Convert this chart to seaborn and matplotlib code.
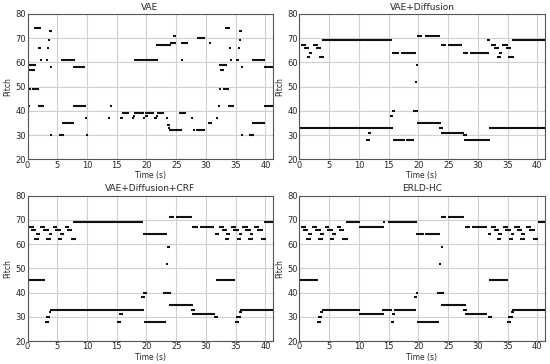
import numpy as np
import pandas as pd
import seaborn as sns
import matplotlib
matplotlib.use("Agg")
import matplotlib.pyplot as plt

# notes as (onset s, offset s, pitch)
vae_notes = [
    (0.0, 0.15, 37), (0.1, 0.5, 42), (0.2, 0.6, 49), (0.2, 1.5, 59), (0.4, 1.2, 57),
    (0.9, 1.9, 49), (1.2, 2.2, 74), (2.0, 2.2, 66), (2.2, 2.4, 61), (1.9, 2.7, 42),
    (3.2, 3.4, 61), (3.4, 3.6, 66), (3.6, 3.8, 69), (3.7, 4.1, 73), (4.0, 4.2, 58),
    (4.0, 4.2, 30), (5.4, 6.1, 30), (5.8, 8.0, 61), (6.0, 7.9, 35), (7.9, 9.6, 58),
    (7.9, 9.9, 42), (9.8, 10.0, 37), (10.0, 10.2, 30), (13.7, 13.9, 37), (14.0, 14.2, 42),
    (15.8, 16.0, 37), (16.0, 17.1, 39), (17.7, 17.9, 37), (17.9, 18.1, 38), (18.0, 19.6, 39),
    (18.0, 21.9, 61), (19.6, 19.8, 37), (20.0, 21.2, 39), (20.0, 20.2, 38), (21.5, 21.7, 37),
    (21.7, 21.9, 38), (21.9, 23.0, 39), (21.8, 24.1, 67), (23.4, 23.6, 37), (23.7, 23.9, 34),
    (23.8, 24.0, 33), (24.0, 26.0, 32), (24.1, 25.0, 68), (24.7, 24.9, 71), (25.6, 26.6, 39),
    (25.9, 26.1, 61), (26.0, 27.0, 68), (27.7, 27.9, 37), (28.0, 28.2, 32), (28.5, 29.9, 32),
    (28.7, 29.9, 70), (30.7, 30.9, 68), (30.5, 31.0, 35), (31.9, 32.1, 37), (32.2, 32.4, 42),
    (32.4, 32.6, 49), (32.4, 33.5, 59), (32.5, 33.1, 57), (33.0, 33.8, 49), (33.3, 34.1, 74),
    (34.0, 34.2, 66), (34.2, 34.4, 61), (33.9, 34.7, 42), (35.3, 35.5, 61), (35.5, 35.7, 66),
    (35.7, 35.9, 69), (35.8, 36.1, 73), (36.0, 36.2, 58), (36.0, 36.2, 30), (37.4, 38.1, 30),
    (37.9, 40.0, 61), (38.0, 39.9, 35), (40.0, 41.2, 58), (40.0, 41.2, 42),
]

diff_notes = [
    (0.0, 15.7, 33), (0.4, 1.1, 67), (0.9, 1.6, 66), (1.4, 1.8, 62), (1.7, 2.1, 64),
    (2.5, 3.1, 67), (2.9, 3.6, 66), (3.5, 4.2, 62), (3.9, 10.7, 69), (10.9, 15.6, 69),
    (11.4, 11.8, 28), (11.7, 12.1, 31), (15.4, 15.8, 38), (15.7, 16.1, 40), (15.7, 16.8, 64),
    (15.9, 17.7, 28), (17.3, 19.6, 64), (18.1, 19.3, 28), (19.2, 20.0, 40), (19.6, 19.8, 52),
    (19.8, 20.0, 59), (20.0, 23.8, 35), (20.0, 20.6, 71), (21.3, 23.7, 71), (23.7, 24.1, 33),
    (23.9, 24.6, 67), (23.9, 27.6, 31), (25.2, 27.4, 67), (27.6, 28.1, 30), (27.9, 32.1, 28),
    (27.7, 28.4, 64), (28.9, 31.8, 64), (31.7, 32.1, 69), (32.0, 41.2, 33), (32.4, 33.1, 67),
    (32.8, 33.6, 66), (33.4, 33.9, 62), (33.8, 34.1, 64), (34.3, 35.0, 67), (34.9, 35.6, 66),
    (35.3, 36.1, 62), (35.9, 41.2, 69),
]

# motif shared by the last two systems
motif = [(0.4, 1.1, 67), (0.8, 1.5, 66), (1.3, 1.9, 62), (1.6, 2.1, 64),
         (2.3, 3.0, 67), (2.8, 3.6, 66), (3.3, 3.9, 62), (3.7, 4.1, 64),
         (4.4, 5.0, 67), (4.8, 5.6, 66), (5.3, 5.8, 62), (5.7, 6.1, 64),
         (6.4, 7.0, 67), (6.8, 7.5, 66), (7.4, 8.2, 62)]
motif_end = [(32.3, 33.1, 67), (32.9, 33.5, 66), (33.4, 33.9, 62), (33.6, 34.1, 64),
             (34.4, 35.1, 67), (34.8, 35.5, 66), (35.4, 35.9, 62), (35.7, 36.1, 64),
             (36.3, 37.1, 67), (36.8, 37.5, 66), (37.3, 37.9, 62), (37.5, 38.0, 64),
             (38.3, 39.0, 67), (38.7, 39.6, 66), (39.4, 40.1, 62)]

crf_notes = motif + motif_end + [
    (0.0, 2.9, 45), (3.1, 3.6, 28), (3.3, 3.8, 30), (3.7, 4.0, 32), (3.9, 15.7, 33),
    (7.9, 14.7, 69), (14.9, 19.5, 69), (15.3, 15.8, 28), (15.6, 16.0, 31), (15.9, 19.6, 33),
    (19.3, 19.7, 38), (19.6, 20.1, 40), (19.6, 20.8, 64), (19.8, 21.6, 28), (21.0, 23.5, 64),
    (21.8, 23.3, 28), (23.0, 24.1, 40), (23.4, 23.6, 52), (23.7, 23.9, 59), (23.9, 24.6, 71),
    (23.9, 27.9, 35), (25.1, 27.6, 71), (27.7, 28.1, 33), (27.9, 28.6, 67), (27.9, 31.6, 31),
    (29.2, 31.4, 67), (31.6, 32.1, 30), (31.7, 32.2, 64), (31.9, 34.9, 45), (35.1, 35.6, 28),
    (35.3, 35.9, 30), (35.7, 36.1, 32), (35.9, 41.2, 33), (39.9, 41.2, 69),
]

erld_notes = motif + motif_end + [
    (0.0, 3.1, 45), (3.1, 3.6, 28), (3.3, 3.8, 30), (3.7, 4.0, 32), (4.0, 10.2, 33),
    (8.0, 10.2, 69), (10.2, 14.2, 67), (10.2, 14.2, 31), (14.1, 15.6, 33), (14.2, 14.4, 69),
    (15.1, 19.7, 69), (15.5, 15.9, 28), (15.7, 16.1, 31), (16.0, 19.6, 33), (19.5, 19.8, 38),
    (19.7, 20.0, 40), (19.8, 20.9, 64), (19.9, 21.7, 28), (21.2, 23.7, 64), (22.0, 23.5, 28),
    (23.3, 24.3, 40), (23.6, 23.8, 52), (23.9, 24.1, 59), (24.0, 24.7, 71), (24.0, 28.0, 35),
    (25.2, 27.7, 71), (27.7, 28.2, 33), (28.0, 28.7, 67), (28.0, 31.6, 31), (29.2, 31.5, 67),
    (31.8, 32.3, 30), (31.8, 32.2, 64), (32.0, 35.1, 45), (35.1, 35.6, 28), (35.3, 35.9, 30),
    (35.7, 36.1, 32), (35.9, 41.2, 33), (40.2, 41.2, 69),
]

titles = ["VAE", "VAE+Diffusion", "VAE+Diffusion+CRF", "ERLD-HC"]
panels = [vae_notes, diff_notes, crf_notes, erld_notes]

sns.set_style("whitegrid", {"axes.edgecolor": "#555555", "grid.color": "#d0d0d0"})
plt.rcParams["font.family"] = ["DejaVu Sans"]

fig, axes = plt.subplots(2, 2, figsize=(5.5, 3.64), dpi=100)
fig.subplots_adjust(left=0.05, right=0.99, top=0.962, bottom=0.063,
                    wspace=0.11, hspace=0.25)

for ax, title, notes in zip(axes.flat, titles, panels):
    df = pd.DataFrame(notes, columns=["onset", "offset", "pitch"])
    ax.hlines(df["pitch"], df["onset"], df["offset"], color="#111111", lw=1.5)
    sns.scatterplot(x=df["onset"], y=df["pitch"], ax=ax, s=2.5, color="#111111",
                    marker="s", linewidth=0, legend=False)
    ax.set_xlim(0, 41.2)
    ax.set_ylim(20, 80)
    ax.set_xticks(np.arange(0, 41, 5))
    ax.set_yticks(np.arange(20, 81, 10))
    ax.set_title(title, fontsize=6.5, pad=3)
    ax.set_xlabel("Time (s)", fontsize=5.5, labelpad=1)
    ax.set_ylabel("Pitch", fontsize=5.5, labelpad=2)
    ax.tick_params(labelsize=6, pad=1, length=0)
    ax.grid(True, lw=0.8)
    for s in ax.spines.values():
        s.set_linewidth(0.8)

fig.savefig("out.png", dpi=100)
